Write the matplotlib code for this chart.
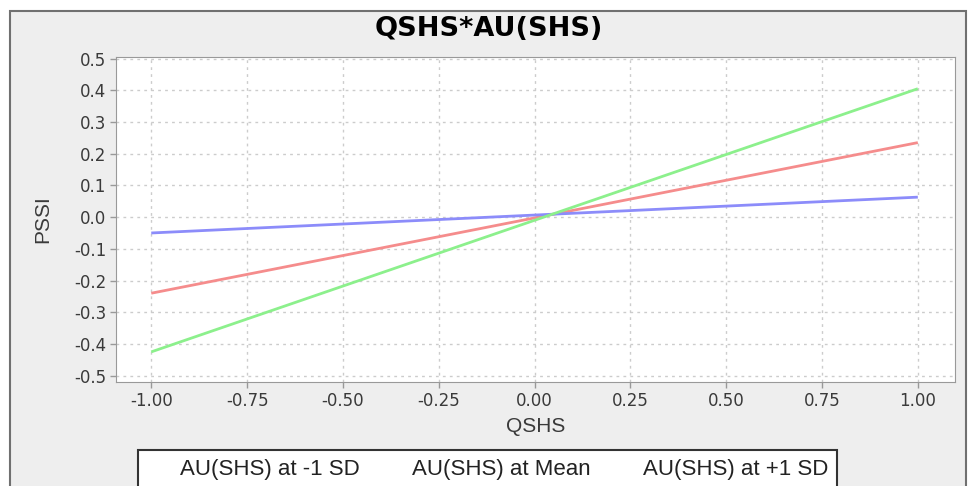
import numpy as np
import matplotlib
matplotlib.use('Agg')
import matplotlib.pyplot as plt
from matplotlib.patches import Rectangle
from matplotlib.lines import Line2D
from matplotlib.ticker import FuncFormatter

plt.rcParams['font.family'] = ['Liberation Sans', 'DejaVu Sans']

# data (simple slopes at QSHS = -1 and +1)
qshs = [-1.0, 1.0]
series_labels = ['AU(SHS) at -1 SD', 'AU(SHS) at Mean', 'AU(SHS) at +1 SD']
low_sd = [-0.240, 0.235]
mean = [-0.050, 0.063]
high_sd = [-0.425, 0.405]
x_ticks = [-1.0, -0.75, -0.5, -0.25, 0.0, 0.25, 0.5, 0.75, 1.0]
y_ticks = [-0.5, -0.4, -0.3, -0.2, -0.1, 0.0, 0.1, 0.2, 0.3, 0.4, 0.5]

colors = ['#f58c8c', '#8c8cfa', '#8cf08c']

W, H = 968, 486
fig = plt.figure(figsize=(W / 100, H / 100), dpi=100, facecolor='white')

# gray panel with frame
fig.patches.append(Rectangle((10 / W, -0.1), 956 / W, 1.1 - 11 / H,
                             transform=fig.transFigure, facecolor='#eeeeee',
                             edgecolor='#707070', lw=1.5, zorder=-5))

ax = fig.add_axes([116 / W, 1 - 382 / H, (955 - 116) / W, (382 - 57) / H])
ax.set_facecolor('white')

for vals, c, lab in zip([low_sd, mean, high_sd], colors, series_labels):
    ax.plot(qshs, vals, color=c, lw=2, label=lab, solid_capstyle='butt')

ax.set_xlim(-1.092, 1.097)
ax.set_ylim(-0.52, 0.505)
ax.set_xticks(x_ticks)
ax.set_yticks(y_ticks)
ax.xaxis.set_major_formatter(FuncFormatter(lambda v, p: f'{v:.2f}'.replace('-0.00', '0.00')))
ax.yaxis.set_major_formatter(FuncFormatter(lambda v, p: f'{v:.1f}'.replace('-0.0', '0.0')))
ax.tick_params(colors='#999999', labelcolor='#3a3a3a', length=4, width=1, pad=3)
for lbl in ax.get_xticklabels() + ax.get_yticklabels():
    lbl.set_fontfamily('DejaVu Sans')
    lbl.set_fontsize(12)
ax.grid(True, color='#cccccc', ls=(0, (2, 3)), lw=1)
for s in ax.spines.values():
    s.set_color('#999999')

fig.text(489 / W, 1 - 29 / H, 'QSHS*AU(SHS)', ha='center', va='center',
         fontsize=19.5, fontweight='bold', family='DejaVu Sans')
ax.set_xlabel('QSHS', fontsize=15, color='#3a3a3a', labelpad=5)
ax.set_ylabel('PSSI', fontsize=15, color='#3a3a3a', labelpad=16)

handles = [Line2D([], [], ls='none') for c in colors]
leg = fig.legend(handles, series_labels, loc='upper left', ncol=3,
                 bbox_to_anchor=(138 / W, 1 - 450 / H), bbox_transform=fig.transFigure,
                 handlelength=1.5, handletextpad=0, columnspacing=0.85,
                 fontsize=16, frameon=True, fancybox=False, framealpha=1,
                 borderpad=0.4, borderaxespad=0)
leg.get_frame().set_edgecolor('#333333')
leg.get_frame().set_linewidth(1.5)
for t in leg.get_texts():
    t.set_color('#222222')

fig.savefig('out.png', dpi=100, facecolor='white')
